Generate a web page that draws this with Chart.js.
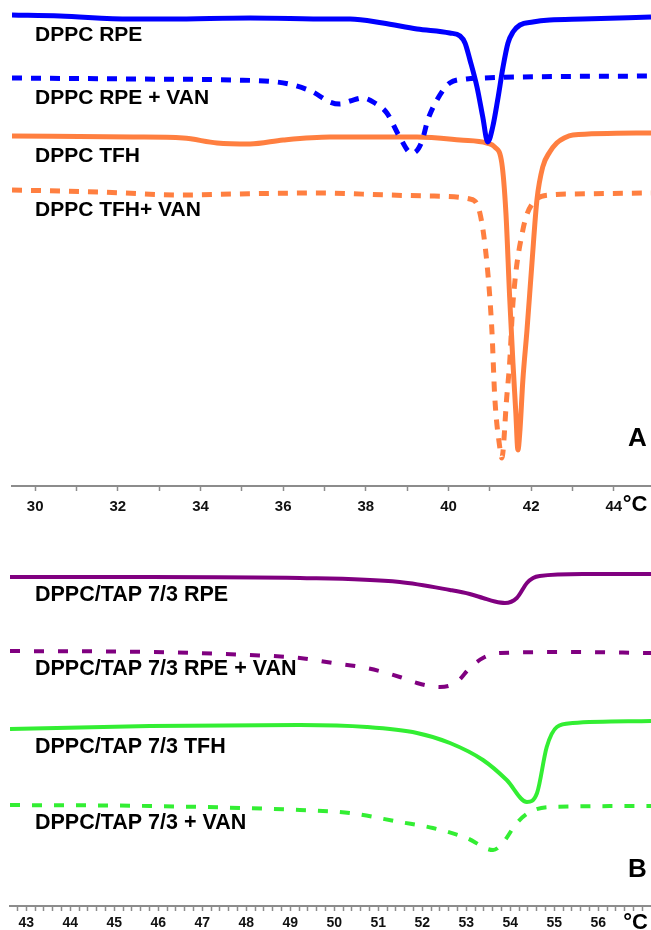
<!DOCTYPE html>
<html>
<head>
<meta charset="utf-8">
<script src="https://cdn.jsdelivr.net/npm/chart.js@4.4.0/dist/chart.umd.min.js"></script>
<style>
  html, body { margin: 0; padding: 0; background: #fff; }
  #wrap { position: relative; width: 651px; height: 930px; overflow: hidden; }
  canvas { position: absolute; left: 0; }
  #chartA { top: 0; }
  #chartB { top: 530px; }
</style>
</head>
<body>
<div id="wrap">
  <canvas id="chartA" width="651" height="525"></canvas>
  <canvas id="chartB" width="651" height="400"></canvas>
</div>
<script>
// Panel A - DPPC thermograms (temperature in °C, heat flow in arbitrary offset units)
const rpeT = [29.44, 30.6, 32.3, 33.26, 35.2, 37.13, 37.62, 38.41, 39.24, 40.03, 40.28, 40.40, 40.52, 40.69, 40.83, 40.95, 41.07, 41.19, 41.32, 41.44, 41.56, 41.73, 42.04, 42.45, 43.25, 44.9];
const rpeV = [47.1, 47.0, 46.7, 46.7, 46.8, 46.7, 46.7, 46.3, 45.7, 45.3, 45.0, 44.3, 42.6, 39.9, 36.9, 34.4, 35.9, 38.6, 41.9, 44.3, 45.4, 46.1, 46.4, 46.6, 46.7, 46.9];

const rpeVanT = [29.44, 32.37, 34.79, 35.85, 36.24, 36.72, 37.13, 37.37, 37.62, 37.93, 38.22, 38.51, 38.82, 39.10, 39.20, 39.36, 39.50, 39.72, 40.03, 40.44, 40.83, 41.65, 44.9];
const rpeVanV = [40.8, 40.7, 40.6, 40.4, 40.1, 39.4, 38.4, 38.2, 38.5, 38.8, 38.3, 37.3, 34.9, 33.3, 33.4, 34.5, 36.6, 38.6, 40.3, 40.7, 40.8, 40.9, 41.0];

const tfhT = [29.44, 32.37, 33.58, 34.40, 35.20, 36.00, 37.13, 39.24, 40.28, 40.93, 41.12, 41.29, 41.39, 41.48, 41.56, 41.63, 41.68, 41.73, 41.80, 41.90, 42.02, 42.14, 42.28, 42.45, 42.62, 42.80, 43.01, 44.9];
const tfhV = [35.0, 34.9, 34.8, 34.3, 34.2, 34.6, 34.9, 34.9, 34.6, 34.3, 33.9, 32.3, 27.3, 18.9, 12.3, 7.3, 3.6, 5.6, 10.6, 15.6, 22.3, 28.6, 31.9, 33.4, 34.3, 34.8, 35.1, 35.3];

const tfhVanT = [29.44, 31.57, 33.51, 34.79, 36.89, 38.53, 39.55, 40.52, 40.76, 40.93, 41.05, 41.12, 41.24, 41.29, 41.41, 41.48, 41.56, 41.80, 42.04, 42.45, 43.01, 44.9];
const tfhVanV = [29.6, 29.4, 29.1, 29.2, 29.3, 29.1, 29.0, 28.7, 27.3, 22.3, 15.6, 8.9, 3.9, 2.8, 8.9, 12.3, 18.3, 25.6, 28.3, 29.1, 29.2, 29.3];

// Panel B - DPPC/TAP 7/3
const tapRpeT = [42.63, 45.81, 49.22, 51.49, 52.63, 53.08, 53.38, 53.65, 53.88, 54.15, 54.38, 54.52, 54.67, 55.65, 57.2];
const tapRpeV = [32.9, 32.9, 32.8, 32.4, 31.6, 31.2, 30.8, 30.45, 30.3, 30.8, 32.3, 32.8, 33.0, 33.2, 33.2];

const tapRpeVanT = [42.63, 45.81, 48.08, 49.22, 49.97, 50.74, 51.49, 51.88, 52.40, 52.79, 53.08, 53.38, 53.77, 55.28, 57.2];
const tapRpeVanV = [25.5, 25.4, 25.1, 24.8, 24.3, 23.8, 22.9, 22.3, 21.9, 22.4, 23.8, 24.8, 25.3, 25.4, 25.3];

const tapTfhT = [42.63, 45.81, 49.22, 50.74, 51.88, 52.63, 53.38, 53.92, 54.38, 54.61, 54.83, 55.06, 55.42, 57.2];
const tapTfhV = [17.7, 18.0, 18.1, 17.9, 17.3, 16.3, 14.6, 12.6, 10.4, 11.3, 15.9, 17.9, 18.3, 18.5];

const tapVanT = [42.63, 45.81, 49.22, 50.35, 51.49, 52.24, 53.01, 53.61, 53.83, 54.15, 54.45, 54.90, 57.2];
const tapVanV = [10.1, 10.0, 9.6, 9.3, 8.4, 7.8, 6.8, 5.6, 6.3, 8.3, 9.4, 9.9, 10.0];

const labelsA = ["DPPC RPE", "DPPC RPE + VAN", "DPPC TFH", "DPPC TFH+ VAN"];
const labelsB = ["DPPC/TAP 7/3 RPE", "DPPC/TAP 7/3 RPE + VAN", "DPPC/TAP 7/3 TFH", "DPPC/TAP 7/3 + VAN"];

const ticksA = [30, 31, 32, 33, 34, 35, 36, 37, 38, 39, 40, 41, 42, 43, 44];
const ticksB = [43, 44, 45, 46, 47, 48, 49, 50, 51, 52, 53, 54, 55, 56];

const FONT = '"Liberation Sans", Arial, sans-serif';
const blue = '#0000ff', orange = '#ff7f40', purple = '#800080', green = '#33ee33';

function pts(xs, ys) {
  return xs.map((x, i) => ({ x: x, y: ys[i] }));
}

function line(label, xs, ys, color, width, dash) {
  return {
    label: label,
    data: pts(xs, ys),
    borderColor: color,
    borderWidth: width,
    borderDash: dash,
    borderCapStyle: 'butt',
    pointRadius: 0,
    fill: false,
    cubicInterpolationMode: 'monotone'
  };
}

// text on the plot: curve names, panel letter, unit
const textPlugin = {
  id: 'textPlugin',
  afterDraw(chart, args, o) {
    const ctx = chart.ctx;
    const area = chart.chartArea;
    const ys = chart.scales.y, xs = chart.scales.x;
    ctx.save();
    ctx.fillStyle = '#000';
    ctx.textAlign = 'left';
    ctx.textBaseline = 'alphabetic';
    ctx.font = 'bold ' + o.labelSize + 'px ' + FONT;
    chart.data.datasets.forEach(ds => {
      const y0 = ys.getPixelForValue(ds.data[0].y);
      ctx.fillText(ds.label, area.left + o.labelDx, y0 + o.labelDy);
    });
    ctx.font = 'bold 26px ' + FONT;
    ctx.fillText(o.panel, area.right - 23, area.bottom - o.panelDy);
    ctx.font = 'bold 22px ' + FONT;
    ctx.fillText('°C', xs.getPixelForValue(o.unitAt) + o.unitDx, area.bottom + o.unitDy);
    ctx.restore();
  }
};

function xAxis(min, max, tickValues, labelFn, fontSize, axisH, pad) {
  return {
    type: 'linear',
    min: min,
    max: max,
    afterBuildTicks: (scale) => { scale.ticks = tickValues.map(v => ({ value: v })); },
    afterFit: (scale) => { scale.height = axisH; },
    border: { display: true, color: '#8c8c8c', width: 2 },
    grid: { drawOnChartArea: false, drawTicks: true, tickLength: 5, tickWidth: 1.5, color: '#8c8c8c' },
    ticks: {
      autoSkip: false,
      maxRotation: 0,
      padding: pad,
      color: '#111',
      font: { family: FONT, size: fontSize, weight: 'bold' },
      callback: labelFn
    }
  };
}

new Chart(document.getElementById('chartA'), {
  type: 'line',
  data: {
    datasets: [
      line(labelsA[0], rpeT, rpeV, blue, 5, []),
      line(labelsA[1], rpeVanT, rpeVanV, blue, 5, [10, 9]),
      line(labelsA[2], tfhT, tfhV, orange, 5, []),
      line(labelsA[3], tfhVanT, tfhVanV, orange, 5, [10, 9])
    ]
  },
  options: {
    responsive: false,
    devicePixelRatio: 1,
    animation: false,
    layout: { padding: { left: 12, right: 0, top: 0, bottom: 0 } },
    plugins: {
      legend: { display: false },
      tooltip: { enabled: false },
      textPlugin: { labelSize: 21, labelDx: 23, labelDy: 26, panel: 'A', panelDy: 40, unitAt: 44, unitDx: 9, unitDy: 25 }
    },
    scales: {
      x: xAxis(29.44, 44.9, ticksA, (v) => (v % 2 === 0 ? v : ''), 15, 39, 7),
      y: { display: false, min: 0, max: 48.6 }
    }
  },
  plugins: [textPlugin]
});

// minor ticks every 0.2 °C in panel B
const minorB = [];
for (let k = 214; k <= 285; k++) minorB.push(k / 5);

new Chart(document.getElementById('chartB'), {
  type: 'line',
  data: {
    datasets: [
      line(labelsB[0], tapRpeT, tapRpeV, purple, 4, []),
      line(labelsB[1], tapRpeVanT, tapRpeVanV, purple, 4, [10, 14]),
      line(labelsB[2], tapTfhT, tapTfhV, green, 4, []),
      line(labelsB[3], tapVanT, tapVanV, green, 4, [10, 12])
    ]
  },
  options: {
    responsive: false,
    devicePixelRatio: 1,
    animation: false,
    layout: { padding: { left: 10, right: 0, top: 0, bottom: 0 } },
    plugins: {
      legend: { display: false },
      tooltip: { enabled: false },
      textPlugin: { labelSize: 21.5, labelDx: 25, labelDy: 24, panel: 'B', panelDy: 29, unitAt: 56, unitDx: 25, unitDy: 23 }
    },
    scales: {
      x: xAxis(42.63, 57.2, minorB, (v) => (ticksB.includes(v) ? v : ''), 14, 24, 4),
      y: { display: false, min: 0, max: 37.6 }
    }
  },
  plugins: [textPlugin]
});
</script>
</body>
</html>
